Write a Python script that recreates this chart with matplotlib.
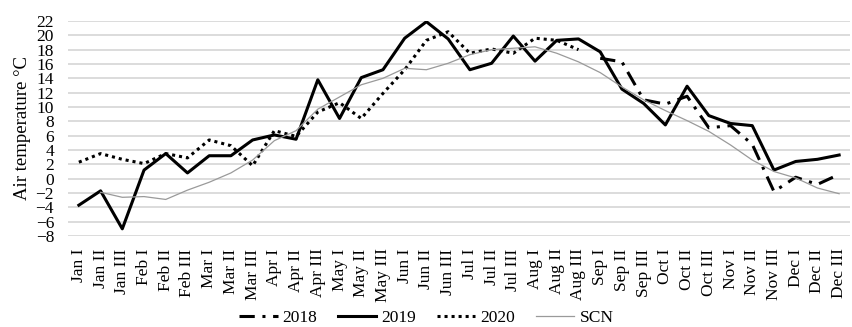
import matplotlib.pyplot as plt
import numpy as np

nan = np.nan

months = ["Jan", "Feb", "Mar", "Apr", "May", "Jun",
          "Jul", "Aug", "Sep", "Oct", "Nov", "Dec"]
dekads = ["I", "II", "III"]
labels = [m + " " + d for m in months for d in dekads]

t2018 = [nan] * 24 + [16.8, 16.3, 11.0, 10.4, 11.5, 7.1,
                      7.4, 4.8, -1.8, 0.2, -0.8, 0.6]
t2019 = [-3.7, -1.7, -7.0, 1.2, 3.5, 0.8, 3.2, 3.2, 5.4, 6.1, 5.5, 13.8,
         8.4, 14.1, 15.2, 19.6, 21.9, 19.5, 15.2, 16.1, 19.9, 16.4, 19.3, 19.5,
         17.7, 12.5, 10.5, 7.5, 12.9, 8.8, 7.7, 7.4, 1.2, 2.4, 2.7, 3.3]
t2020 = [2.3, 3.5, 2.7, 2.1, 3.5, 2.9, 5.4, 4.6, 1.8, 6.7, 5.9, 9.3,
         10.6, 8.4, 11.9, 15.2, 19.3, 20.5, 17.5, 18.1, 17.5, 19.6, 19.3, 18.0] + [nan] * 12
scn = [nan, -1.9, -2.6, -2.5, -2.9, -1.6, -0.5, 0.8, 2.6, 5.3, 6.7, 9.7,
       11.4, 13.1, 14.0, 15.4, 15.2, 16.1, 17.3, 18.0, 18.2, 18.4, 17.5, 16.3,
       14.8, 12.8, 11.0, 9.5, 8.1, 6.6, 4.7, 2.6, 1.0, 0.1, -1.3, -2.1]

plt.rcParams['font.family'] = ['Liberation Serif', 'DejaVu Serif']

fig = plt.figure(figsize=(8.53, 3.27), dpi=100)
ax = fig.add_axes([68 / 853, 1 - 236 / 327, 782 / 853, 215 / 327])

x = np.arange(len(labels))
ax.plot(x, t2018, color='black', lw=2.2, linestyle=(0, (5, 2.5, 1, 2.5)), label='2018')
ax.plot(x, t2019, color='black', lw=2.2, label='2019')
ax.plot(x, t2020, color='black', lw=2.2, linestyle=(0, (1, 1.3)), label='2020')
ax.plot(x, scn, color='#9a9a9a', lw=0.9, label='SCN')

ax.set_xlim(-0.5, len(labels) - 0.5)
ax.set_ylim(-8, 22)
ax.set_yticks(range(-8, 23, 2))
ax.set_xticks(x)
ax.set_xticklabels(labels, rotation=90, fontsize=12.5)
ax.tick_params(axis='y', labelsize=12.5, length=0, pad=10)
ax.tick_params(axis='x', length=0, pad=9)
ax.grid(axis='y', color='#d9d9d9', lw=1.3)
ax.set_axisbelow(True)
for s in ax.spines.values():
    s.set_visible(False)
ax.set_ylabel('Air temperature °C', fontsize=13.5, labelpad=3)

fig.legend(loc='lower center', bbox_to_anchor=(0.5, -0.045), ncol=4, frameon=False,
           fontsize=12.5, handlelength=2.2, columnspacing=1.2, handletextpad=0.3)

fig.savefig('out.png', dpi=100)
